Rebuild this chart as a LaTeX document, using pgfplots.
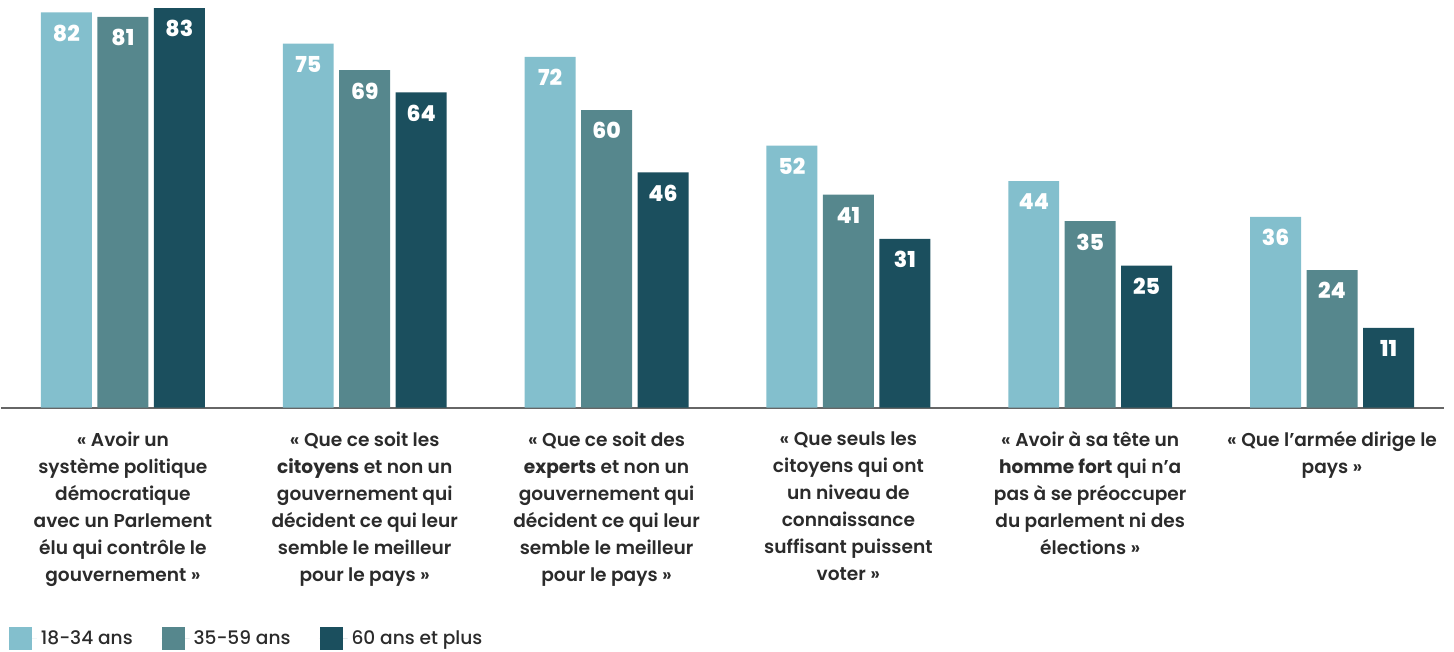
\documentclass[border=0pt]{standalone}
\usepackage{fontspec}
\setmainfont{Poppins}[UprightFont=* SemiBold, BoldFont=* Bold]
\newfontfamily\legfont{Poppins}[UprightFont=* Medium]
\newfontfamily\numfont{Poppins}[UprightFont=* ExtraBold]
\usepackage{pgfplots}
\usepackage{pgfplotstable}
\pgfplotsset{compat=1.18}
\definecolor{cA}{HTML}{83BFCD}
\definecolor{cB}{HTML}{56878D}
\definecolor{cC}{HTML}{1B4F5E}
\definecolor{txt}{HTML}{2B2B2B}
\pgfplotstableread{
x a b c
0 82 81 83
1 75 69 64
2 72 60 46
3 52 41 31
4 44 35 25
5 36 24 11
}\data
\begin{document}
\begin{tikzpicture}
\path (0,-120pt) rectangle (727pt,204pt);
\begin{axis}[
  at={(0,0)}, anchor=south west,
  width=722pt, height=200pt, scale only axis,
  xmin=-0.504, xmax=5.463, ymin=0, ymax=90,
  ybar=2.75pt, bar width=25.5pt,
  axis x line=bottom, axis y line=none,
  x axis line style={-, line width=1pt, color=gray!80!black},
  xtick=data, major tick length=0,
  /pgf/number format/assume math mode=true,
  xticklabels={
    {« Avoir un\\système politique\\démocratique\\avec un Parlement\\élu qui contrôle le\\gouvernement »},
    {« Que ce soit les\\\textbf{citoyens} et non un\\gouvernement qui\\décident ce qui leur\\semble le meilleur\\pour le pays »},
    {« Que ce soit des\\\textbf{experts} et non un\\gouvernement qui\\décident ce qui leur\\semble le meilleur\\pour le pays »},
    {« Que seuls les\\citoyens qui ont\\un niveau de\\connaissance\\suffisant puissent\\voter »},
    {« Avoir à sa tête un\\\textbf{homme fort} qui n’a\\pas à se préoccuper\\du parlement ni des\\élections »},
    {« Que l’armée dirige le\\pays »}
  },
  xticklabel style={align=center, font=\fontsize{9.3}{13.5}\selectfont, text=txt, anchor=north, yshift=-8.5pt},
  nodes near coords, point meta=explicit,
  every node near coord/.append style={anchor=north, font=\numfont\fontsize{11}{11}\selectfont, text=white, yshift=-6pt, inner sep=0pt},
  legend columns=3,
  legend style={at={(rel axis cs:0,0)}, anchor=west, xshift=4pt, yshift=-115.5pt, draw=none, inner sep=0pt, outer sep=0pt, font=\legfont\fontsize{9.3}{12}\selectfont, text=txt,
    /tikz/every even column/.append style={column sep=12.5pt}},
  legend image code/.code={\fill[#1] (0pt,-5.75pt) rectangle (11.5pt,5.75pt); \path (0pt,0pt) -- (14pt,0pt);},
]
\addplot[draw=none, fill=cA] table[x=x, y expr=\thisrow{a}+7, meta=a] {\data};
\addplot[draw=none, fill=cB] table[x=x, y expr=\thisrow{b}+7, meta=b] {\data};
\addplot[draw=none, fill=cC] table[x=x, y expr=\thisrow{c}+7, meta=c] {\data};
\legend{18-34 ans, 35-59 ans, 60 ans et plus}
\end{axis}
\end{tikzpicture}
\end{document}
